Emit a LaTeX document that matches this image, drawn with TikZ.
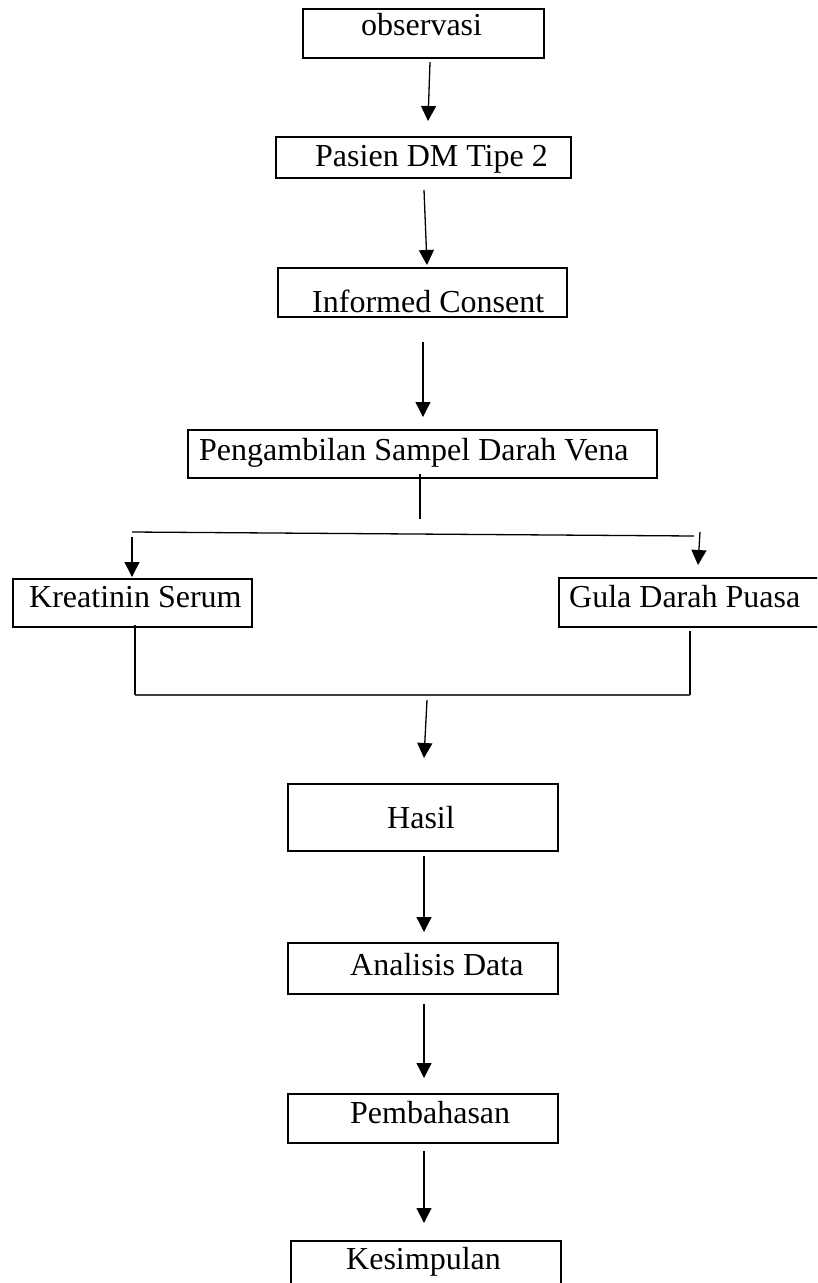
\documentclass[tikz,border=0pt]{standalone}
\usepackage{fontspec}
\setmainfont{Liberation Serif}
\usetikzlibrary{arrows.meta}
\begin{document}
\begin{tikzpicture}[x=1pt,y=-1pt,
  box/.style={draw, line width=2pt, inner sep=0pt},
  txt/.style={inner sep=0pt, anchor=base west, font=\fontsize{32}{38}\selectfont},
  conn/.style={line width=1.3pt},
  arr/.style={line width=1.3pt, -{Triangle[length=15pt,width=15pt]}}]
\useasboundingbox (0,0) rectangle (817,1283);
\clip (0,0) rectangle (817,1283);
\fill[white] (0,0) rectangle (817,1283);
% boxes
\node[box, minimum width=241pt, minimum height=49pt] (obs) at (423.5,33.5) {};
\node[box, minimum width=295pt, minimum height=41pt] (pas) at (423.5,157.5) {};
\node[box, minimum width=289pt, minimum height=49pt] (inf) at (422.5,292.5) {};
\node[box, minimum width=469pt, minimum height=48pt] (pen) at (422.5,454) {};
\node[box, minimum width=239pt, minimum height=48pt] (kre) at (132.5,603) {};
\node[box, minimum width=261pt, minimum height=49pt] (gul) at (689.5,602.5) {};
\node[box, minimum width=270pt, minimum height=67pt] (has) at (423,817.5) {};
\node[box, minimum width=270pt, minimum height=51pt] (ana) at (423,968.5) {};
\node[box, minimum width=270pt, minimum height=49pt] (pem) at (423,1118.5) {};
\node[box, minimum width=270pt, minimum height=50pt] (kes) at (425.5,1266) {};
% texts
\node[txt] (tobs) at (361,35) {observasi};
\node[txt] (tpas) at (315,166) {Pasien DM Tipe 2};
\node[txt] (tinf) at (312,312) {Informed Consent};
\node[txt] (tpen) at (199,460) {Pengambilan Sampel Darah Vena};
\node[txt] (tkre) at (29,607) {Kreatinin Serum};
\node[txt] (tgul) at (569,607) {Gula Darah Puasa};
\node[txt] (thas) at (387,828) {Hasil};
\node[txt] (tana) at (350,975) {Analisis Data};
\node[txt] (tpem) at (350,1123) {Pembahasan};
\node[txt] (tkes) at (346,1269) {Kesimpulan};
% connector end points
\coordinate (a1) at (430,62);   \coordinate (a1e) at (428,121);
\coordinate (a2) at (424,190);  \coordinate (a2e) at (427,265);
\coordinate (a3) at (423,342);  \coordinate (a3e) at (423,417);
\coordinate (s1) at (420,474);  \coordinate (s1e) at (420,519);
\coordinate (hl) at (132,532);  \coordinate (hr) at (694,536);
\coordinate (kl) at (132,537);  \coordinate (kle) at (132,577);
\coordinate (gr) at (700,532);  \coordinate (gre) at (698,565);
\coordinate (v1) at (135,625);  \coordinate (v1e) at (135,695);
\coordinate (v2) at (690,631);  \coordinate (v2e) at (690,695);
\coordinate (a4) at (427,700);  \coordinate (a4e) at (424,758);
\coordinate (a5) at (424,856);  \coordinate (a5e) at (424,932);
\coordinate (a6) at (424,1004); \coordinate (a6e) at (424,1078);
\coordinate (a7) at (424,1151); \coordinate (a7e) at (424,1223);
% connectors
\draw[arr] (a1) -- (a1e);
\draw[arr] (a2) -- (a2e);
\draw[arr] (a3) -- (a3e);
\draw[conn] (s1) -- (s1e);
\draw[conn] (hl) -- (hr);
\draw[arr] (kl) -- (kle);
\draw[arr] (gr) -- (gre);
\draw[conn] (v1) -- (v1e);
\draw[conn] (v2) -- (v2e);
\draw[conn, line width=1.6pt, black!75] (v1e) -- (v2e);
\draw[arr] (a4) -- (a4e);
\draw[arr] (a5) -- (a5e);
\draw[arr] (a6) -- (a6e);
\draw[arr] (a7) -- (a7e);
\end{tikzpicture}
\end{document}
